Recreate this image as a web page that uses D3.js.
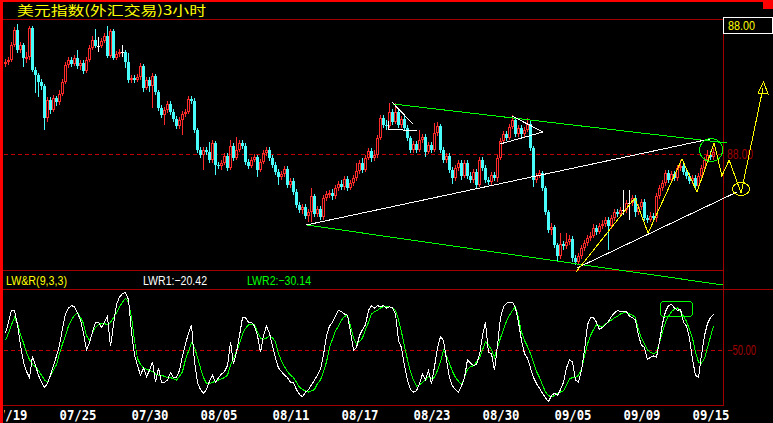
<!DOCTYPE html>
<html><head><meta charset="utf-8">
<script src="https://cdn.jsdelivr.net/npm/d3@7"></script>
<style>html,body{margin:0;padding:0;background:#000;overflow:hidden}svg{display:block}</style>
</head><body><svg id="c" width="773" height="423"></svg>
<script>
// ---- 3-hour bars: US dollar index ----
const firstOpen = 88.90;
const close = [
88.92,88.94,89.09,89.24,89.04,89.09,88.96,88.97,89.26,88.84,
88.79,88.72,88.68,88.36,88.54,88.44,88.56,88.52,88.60,88.72,
88.89,88.94,88.90,88.96,88.88,88.91,88.83,88.94,89.06,89.14,
89.08,89.08,89.13,89.18,88.98,89.23,88.96,89.00,89.02,89.02,
88.92,88.74,88.76,88.74,88.77,88.88,88.66,88.74,88.68,88.78,
88.62,88.46,88.39,88.44,88.50,88.42,88.35,88.28,88.34,88.40,
88.42,88.55,88.53,88.24,88.04,87.99,88.04,88.02,87.94,88.11,
87.89,87.88,87.91,87.98,87.86,88.08,87.96,88.04,88.11,88.08,
87.92,87.88,87.94,87.97,87.84,87.92,88.01,88.04,87.96,87.89,
87.82,87.77,87.80,87.85,87.69,87.73,87.62,87.49,87.44,87.47,
87.38,87.42,87.58,87.40,87.45,87.37,87.56,87.60,87.61,87.58,
87.66,87.70,87.67,87.75,87.66,87.71,87.76,87.83,87.91,87.84,
87.96,88.03,87.96,87.99,88.16,88.36,88.29,88.28,88.42,88.32,
88.42,88.29,88.35,88.26,88.16,88.04,88.10,88.04,88.14,88.17,
88.02,88.09,88.04,88.21,88.28,88.04,87.94,87.98,87.84,87.76,
87.86,87.91,87.78,87.91,87.78,87.74,87.82,87.69,87.94,87.86,
87.74,87.72,87.79,87.76,87.96,88.13,88.20,88.16,88.27,88.34,
88.20,88.26,88.20,88.24,88.30,88.06,87.74,87.78,87.81,87.66,
87.42,87.24,87.27,87.09,86.98,87.10,87.08,87.12,87.15,86.96,
86.92,86.98,87.06,87.11,87.16,87.18,87.26,87.22,87.28,87.30,
87.34,87.28,87.36,87.42,87.40,87.44,87.44,87.51,87.51,87.56,
87.42,87.47,87.52,87.36,87.34,87.38,87.36,87.58,87.66,87.71,
87.81,87.74,87.80,87.76,87.86,87.88,87.82,87.78,87.73,87.76,
87.68,87.78,87.86,87.94,87.99,87.97,88.02];
const high = [
88.95,88.97,89.12,89.27,89.30,89.12,89.11,89.02,89.28,89.28,
88.87,88.81,88.75,88.70,88.57,88.57,88.59,88.58,88.64,88.75,
88.92,88.97,88.97,88.99,89.04,88.94,88.94,88.97,89.09,89.18,
89.25,89.17,89.16,89.21,89.28,89.25,89.25,89.03,89.05,89.09,
89.04,89.01,88.79,88.79,88.80,88.91,88.90,88.77,88.77,88.81,
88.80,88.64,88.49,88.47,88.53,88.53,88.45,88.38,88.37,88.43,
88.45,88.58,88.58,88.56,88.26,88.07,88.07,88.07,88.12,88.14,
88.13,87.92,87.94,88.01,88.01,88.14,88.11,88.17,88.14,88.14,
88.11,87.95,87.97,88.00,87.99,87.95,88.04,88.07,88.07,87.99,
87.92,87.85,87.83,87.88,87.88,87.76,87.76,87.65,87.52,87.50,
87.50,87.45,87.66,87.60,87.48,87.48,87.59,87.63,87.64,87.65,
87.69,87.73,87.74,87.78,87.78,87.74,87.79,87.91,87.94,87.96,
87.99,88.06,88.06,88.04,88.19,88.39,88.39,88.34,88.51,88.45,
88.51,88.44,88.38,88.38,88.29,88.18,88.13,88.13,88.24,88.20,
88.20,88.12,88.12,88.31,88.32,88.30,88.07,88.01,88.01,87.87,
87.89,87.94,87.94,87.94,87.94,87.82,87.85,87.85,87.97,87.97,
87.89,87.77,87.82,87.82,87.99,88.16,88.23,88.23,88.30,88.39,
88.36,88.29,88.29,88.27,88.36,88.33,88.08,87.81,87.84,87.83,
87.68,87.44,87.31,87.29,87.11,87.21,87.13,87.21,87.19,87.18,
86.99,87.01,87.09,87.14,87.19,87.22,87.30,87.29,87.31,87.34,
87.37,87.37,87.39,87.45,87.45,87.47,87.64,87.54,87.64,87.59,
87.59,87.50,87.55,87.55,87.39,87.42,87.41,87.61,87.69,87.74,
87.84,87.84,87.83,87.83,87.89,87.94,87.91,87.85,87.81,87.79,
87.79,87.81,87.89,87.97,88.04,88.03,88.06];
const low = [
88.87,88.89,88.92,89.07,89.01,89.01,88.87,88.91,88.94,88.82,
88.61,88.57,88.64,88.24,88.32,88.40,88.42,88.48,88.49,88.58,
88.70,88.86,88.87,88.88,88.85,88.84,88.80,88.81,88.92,89.04,
89.06,89.02,89.06,89.11,88.96,88.96,88.94,88.94,88.97,88.97,
88.86,88.71,88.71,88.71,88.72,88.74,88.62,88.64,88.62,88.46,
88.59,88.43,88.36,88.29,88.41,88.39,88.32,88.25,88.25,88.19,
88.37,88.40,88.50,88.21,88.01,87.96,87.84,87.99,87.91,87.91,
87.79,87.85,87.84,87.89,87.83,87.84,87.93,87.94,88.02,88.05,
87.89,87.85,87.86,87.92,87.77,87.82,87.90,87.98,87.93,87.86,
87.79,87.69,87.74,87.77,87.66,87.66,87.59,87.46,87.41,87.40,
87.35,87.32,87.32,87.37,87.37,87.34,87.34,87.53,87.56,87.54,
87.55,87.63,87.64,87.64,87.63,87.64,87.68,87.73,87.80,87.81,
87.82,87.94,87.92,87.93,87.96,88.14,88.26,88.24,88.26,88.29,
88.30,88.26,88.26,88.23,88.13,88.01,88.01,88.01,88.02,88.11,
87.97,88.00,88.01,88.02,88.18,88.01,87.91,87.91,87.81,87.70,
87.73,87.83,87.74,87.76,87.75,87.71,87.71,87.66,87.67,87.83,
87.71,87.69,87.69,87.73,87.72,87.94,88.11,88.13,88.14,88.25,
88.17,88.17,88.17,88.17,88.22,88.03,87.67,87.71,87.76,87.63,
87.39,87.21,87.19,87.06,86.92,86.95,87.04,87.05,87.09,86.92,
86.89,86.89,86.95,87.03,87.08,87.13,87.16,87.19,87.20,87.25,
87.27,87.04,87.25,87.33,87.37,87.37,87.39,87.41,87.34,87.48,
87.37,87.39,87.44,87.33,87.31,87.32,87.33,87.32,87.55,87.63,
87.68,87.71,87.71,87.73,87.73,87.83,87.79,87.75,87.70,87.70,
87.65,87.65,87.75,87.83,87.91,87.94,87.94];

// ---- LW&R(9,3,3) indicator ----
const lwr1 = [
-36,-27,-17,-17,-29,-46,-60,-68,-73,-55,
-63,-71,-77,-81,-78,-71,-63,-55,-46,-32,
-20,-15,-13,-14,-19,-25,-36,-50,-44,-35,
-27,-27,-31,-27,-22,-47,-29,-12,-6,-3,
-2,-8,-35,-54,-63,-71,-65,-72,-67,-60,
-77,-65,-77,-77,-75,-69,-73,-73,-67,-55,
-45,-36,-29,-60,-77,-83,-86,-83,-76,-71,
-77,-73,-70,-68,-63,-43,-62,-52,-38,-23,
-23,-27,-27,-30,-38,-52,-38,-30,-36,-47,
-57,-65,-68,-71,-73,-77,-77,-83,-87,-89,
-85,-83,-79,-75,-71,-66,-54,-38,-30,-27,
-22,-17,-18,-20,-21,-35,-50,-48,-38,-33,
-29,-17,-13,-15,-13,-14,-13,-15,-14,-15,
-20,-42,-48,-63,-75,-83,-85,-84,-78,-70,
-75,-67,-78,-64,-48,-39,-42,-58,-73,-80,
-83,-85,-80,-73,-58,-61,-63,-62,-54,-38,
-27,-52,-53,-67,-46,-23,-14,-11,-10,-10,
-15,-27,-42,-53,-57,-65,-73,-78,-82,-86,
-90,-93,-88,-86,-88,-83,-77,-65,-58,-60,
-75,-77,-67,-50,-29,-23,-23,-27,-33,-31,
-29,-26,-22,-19,-17,-18,-18,-18,-22,-23,
-25,-38,-46,-48,-58,-56,-55,-56,-43,-28,
-18,-13,-12,-15,-17,-16,-27,-30,-40,-58,
-71,-73,-54,-38,-28,-23,-20.42];
const lwr2 = [
-42,-36,-29,-23,-28,-37,-44,-52,-58,-62,
-64,-67,-71,-75,-77,-72,-67,-62,-53,-45,
-38,-30,-25,-21,-19,-23,-28,-38,-42,-36,
-31,-29,-28,-28,-29,-27,-23,-19,-14,-10,
-7,-10,-23,-42,-57,-62,-65,-66,-67,-68,
-70,-71,-71,-72,-73,-73,-74,-75,-72,-68,
-58,-51,-44,-48,-56,-65,-73,-78,-78,-77,
-76,-75,-74,-73,-71,-63,-57,-51,-45,-37,
-32,-29,-29,-29,-35,-40,-41,-40,-38,-40,
-43,-53,-59,-64,-68,-71,-73,-77,-81,-83,
-84,-85,-84,-83,-78,-75,-68,-60,-48,-41,
-34,-30,-25,-22,-21,-30,-40,-45,-43,-40,
-33,-27,-20,-18,-17,-15,-14,-14,-14,-15,
-17,-25,-35,-47,-58,-68,-75,-80,-79,-77,
-75,-72,-74,-73,-67,-60,-50,-55,-61,-68,
-73,-76,-79,-73,-66,-64,-63,-60,-57,-50,
-43,-46,-50,-56,-48,-40,-33,-26,-21,-17,
-14,-23,-35,-42,-47,-53,-60,-68,-73,-79,
-85,-88,-89,-88,-86,-85,-84,-79,-74,-73,
-73,-71,-66,-55,-45,-38,-33,-29,-30,-31,
-28,-27,-25,-23,-22,-20,-19,-19,-20,-21,
-23,-33,-40,-45,-50,-52,-53,-52,-44,-35,
-27,-22,-18,-16,-15,-18,-22,-26,-33,-40,
-52,-60,-61,-57,-48,-39,-30.14];

// ---- date axis ----
const tickIdx = [1, 24, 48, 71, 95, 118, 142, 165, 189, 212, 235];
const tickLabels = ["07/19","07/25","07/30","08/05","08/11","08/17","08/23","08/30","09/05","09/09","09/15"];

// ---- drawn studies, as [bar index, price] ----
const greenLines = [
  [[129.2, 88.50], [240.5, 88.11]],
  [[100.5, 87.29], [239.2, 86.69]]
];
const whiteLines = [
  [[100.2, 87.29], [234.8, 88.15]],
  [[190.5, 86.86], [243.8, 87.62]],
  [[128.8, 88.52], [135.8, 88.30]],
  [[127.5, 88.25], [137.2, 88.23]],
  [[127.5, 88.33], [127.5, 88.25]],
  [[168.8, 88.38], [179.2, 88.22]],
  [[164.8, 88.10], [179.2, 88.22]]
];
const wavePath = [[190.2,86.82],[209.8,87.56],[214.2,87.21],[225.5,87.95],[230.5,87.62],
  [236.2,88.11],[238.8,87.78],[241.2,87.94],[245.2,87.61],[252.5,88.66]];
const waveArrow = [[250.8,88.61],[252.7,88.72],[254.2,88.60]];
const greenRing = [235.2, 88.04];
const yellowRing = [245.2, 87.65];
const lwrBox = [[218.2, -9.2], [228.8, -21.7]];

const lastPrice = 88.00;
const midLevel = -50;

// ---------------------------------------------------------------
const W = 773, H = 423, N = close.length;
const open = close.map((c, i) => i === 0 ? firstOpen : close[i - 1]);

const RED = "#ff2a2a", CYAN = "#48fcfc", DARK = "#a00000";

const svg = d3.select("#c");
svg.append("rect").attr("width", W).attr("height", H).attr("fill", "#000");

const xs = d3.scaleLinear().domain([0, N - 1]).range([5.5, 5.5 + 3 * (N - 1)]);
const yP = d3.scaleLinear().domain([89.34, 86.84]).range([20, 270]);
const yI = d3.scaleLinear().domain([0, -100]).range([290, 410]);

// frame
const frame = svg.append("g").attr("stroke", DARK).attr("stroke-width", 1).attr("shape-rendering", "crispEdges");
[[3, 723, 19.5], [3, 723, 270.5], [3, 773, 289.5], [3, 723, 405.5]].forEach(([a, b, y]) =>
  frame.append("line").attr("x1", a).attr("x2", b).attr("y1", y).attr("y2", y));
frame.append("line").attr("x1", 723.5).attr("x2", 723.5).attr("y1", 19).attr("y2", 406);

// reference levels
svg.append("line").attr("x1", 4).attr("x2", 722)
  .attr("y1", yP(lastPrice) + 0.5).attr("y2", yP(lastPrice) + 0.5)
  .attr("stroke", "#c00000").attr("stroke-dasharray", "4,3").attr("shape-rendering", "crispEdges");
svg.append("line").attr("x1", 4).attr("x2", 722)
  .attr("y1", yI(midLevel) + 0.5).attr("y2", yI(midLevel) + 0.5)
  .attr("stroke", "#c00000").attr("stroke-dasharray", "4,3").attr("shape-rendering", "crispEdges");

svg.append("text").attr("x", 727).attr("y", yP(lastPrice) + 5).attr("fill", DARK)
  .attr("font-family", "Liberation Sans, Arial, sans-serif").attr("font-size", 14)
  .attr("textLength", 26).attr("lengthAdjust", "spacingAndGlyphs").text(d3.format(".2f")(lastPrice));
svg.append("text").attr("x", 727).attr("y", yI(midLevel) + 5).attr("fill", DARK)
  .attr("font-family", "Liberation Sans, Arial, sans-serif").attr("font-size", 14)
  .attr("textLength", 29).attr("lengthAdjust", "spacingAndGlyphs").text(d3.format(".2f")(midLevel));

// candles
const cg = svg.append("g").attr("shape-rendering", "crispEdges");
for (let i = 0; i < N; i++) {
  const o = open[i], c = close[i];
  const hi = Math.max(high[i], o, c), lo = Math.min(low[i], o, c);
  const x = xs(i);
  const yTop = Math.round(yP(Math.max(o, c))), yBot = Math.round(yP(Math.min(o, c)));
  const yH = Math.round(yP(hi)), yL = Math.round(yP(lo));
  if (c > o) {
    cg.append("line").attr("x1", x).attr("x2", x).attr("y1", yH).attr("y2", yTop).attr("stroke", RED);
    cg.append("line").attr("x1", x).attr("x2", x).attr("y1", yBot).attr("y2", yL).attr("stroke", RED);
    cg.append("rect").attr("x", x - 1).attr("y", yTop + 0.5).attr("width", 2)
      .attr("height", Math.max(1, yBot - yTop - 1)).attr("fill", "none").attr("stroke", RED);
  } else if (c < o) {
    cg.append("line").attr("x1", x).attr("x2", x).attr("y1", yH).attr("y2", yL).attr("stroke", CYAN);
    cg.append("rect").attr("x", x - 1.5).attr("y", yTop).attr("width", 3)
      .attr("height", Math.max(1, yBot - yTop)).attr("fill", CYAN);
  } else {
    cg.append("line").attr("x1", x).attr("x2", x).attr("y1", yH).attr("y2", yL).attr("stroke", "#fff");
    cg.append("line").attr("x1", x - 1.5).attr("x2", x + 1.5).attr("y1", yTop + 0.5).attr("y2", yTop + 0.5).attr("stroke", "#fff");
  }
}

// drawn studies
const pLine = d3.line().x(d => xs(d[0])).y(d => yP(d[1]));
const st = svg.append("g").attr("fill", "none").attr("stroke-width", 1).attr("shape-rendering", "crispEdges");
greenLines.forEach(l => st.append("path").attr("d", pLine(l)).attr("stroke", "#00ff00"));
whiteLines.forEach(l => st.append("path").attr("d", pLine(l)).attr("stroke", "#ffffff"));
st.append("path").attr("d", pLine(wavePath)).attr("stroke", "#ffff00");
st.append("path").attr("d", pLine(waveArrow) + "Z").attr("stroke", "#ffff00");
st.append("circle").attr("cx", xs(greenRing[0])).attr("cy", yP(greenRing[1])).attr("r", 11.5).attr("stroke", "#00ff00");
st.append("ellipse").attr("cx", xs(yellowRing[0])).attr("cy", yP(yellowRing[1])).attr("rx", 8.5).attr("ry", 6.5).attr("stroke", "#ffff00");

// indicator lines
const iLine = d3.line().x((d, i) => xs(i)).y(d => yI(d));
const ig = svg.append("g").attr("fill", "none").attr("shape-rendering", "crispEdges");
ig.append("path").attr("d", iLine(lwr2)).attr("stroke", "#00ff00");
ig.append("path").attr("d", iLine(lwr1)).attr("stroke", "#ffffff");
ig.append("rect")
  .attr("x", xs(lwrBox[0][0]) + 0.5).attr("y", yI(lwrBox[0][1]) + 0.5)
  .attr("width", xs(lwrBox[1][0]) - xs(lwrBox[0][0])).attr("height", yI(lwrBox[1][1]) - yI(lwrBox[0][1]))
  .attr("rx", 3).attr("stroke", "#00ff00");

// indicator header
const hdr = [["LW&R(9,3,3)", 6, "#ffff00", 61],
             ["LWR1:" + d3.format(".2f")(lwr1[N - 1]), 143, "#ffffff", 64],
             ["LWR2:" + d3.format(".2f")(lwr2[N - 1]), 247, "#00ff00", 64]];
hdr.forEach(([t, x, col, len]) => svg.append("text").attr("x", x).attr("y", 285).attr("fill", col)
  .attr("font-family", "Liberation Sans, Arial, sans-serif").attr("font-size", 13)
  .attr("textLength", len).attr("lengthAdjust", "spacingAndGlyphs").text(t));

// date axis (first label runs under the left edge)
svg.append("clipPath").attr("id", "axclip").append("rect").attr("x", 4).attr("y", 400).attr("width", 769).attr("height", 23);
const ax = svg.append("g").attr("clip-path", "url(#axclip)")
  .append("g").attr("transform", "translate(0,407)")
  .call(d3.axisBottom(xs).tickValues(tickIdx).tickFormat((d, i) => tickLabels[i]).tickSize(0).tickPadding(0));
ax.select(".domain").remove();
ax.selectAll("text").attr("y", 13).attr("dy", null).attr("fill", "#fff")
  .attr("font-family", "DejaVu Sans Mono, monospace").attr("font-weight", "bold").attr("font-size", 14)
  .attr("textLength", 37).attr("lengthAdjust", "spacingAndGlyphs");

// title and price box
svg.append("text").attr("x", 17).attr("y", 15).attr("fill", "#ffff00")
  .attr("font-family", "Noto Sans CJK SC, sans-serif").attr("font-size", 13)
  .attr("textLength", 189).attr("lengthAdjust", "spacingAndGlyphs").text("美元指数(外汇交易)3小时");
svg.append("rect").attr("x", 723.5).attr("y", 17.5).attr("width", 49).attr("height", 16)
  .attr("fill", "#000").attr("stroke", "#fff").attr("shape-rendering", "crispEdges");
svg.append("text").attr("x", 728).attr("y", 30).attr("fill", "#ffff00")
  .attr("font-family", "Liberation Sans, Arial, sans-serif").attr("font-size", 13)
  .attr("textLength", 27).attr("lengthAdjust", "spacingAndGlyphs").text(d3.format(".2f")(lastPrice));

// window chrome
svg.append("rect").attr("x", 0).attr("y", 0).attr("width", 3).attr("height", H).attr("fill", "#ff0000");
svg.append("rect").attr("x", 0).attr("y", 0).attr("width", W).attr("height", 2).attr("fill", "#ff0000");
svg.append("rect").attr("x", 763).attr("y", 0).attr("width", 10).attr("height", 9).attr("fill", "#ff0000");
</script></body></html>
